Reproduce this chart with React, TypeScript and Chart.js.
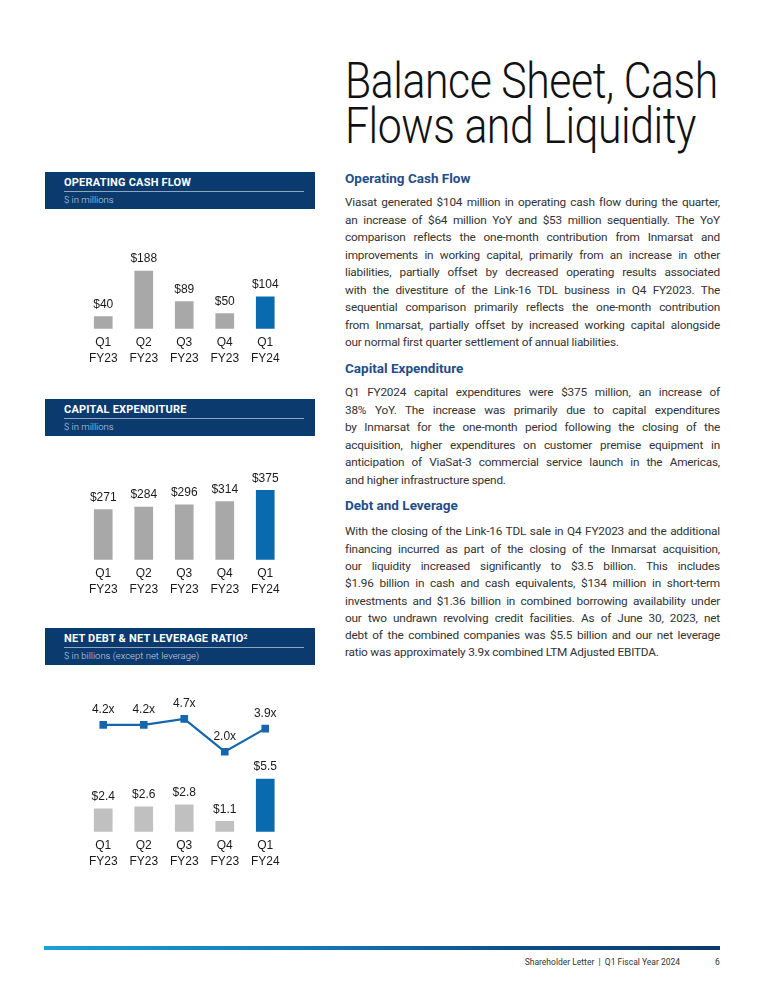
import React, { useEffect, useRef } from "react";
import { Chart, registerables } from "chart.js";

Chart.register(...registerables);

// ---------- data ----------
const categories: string[][] = [
  ["Q1", "FY23"],
  ["Q2", "FY23"],
  ["Q3", "FY23"],
  ["Q4", "FY23"],
  ["Q1", "FY24"],
];
const operatingCashFlow = [40, 188, 89, 50, 104];
const capitalExpenditure = [271, 284, 296, 314, 375];
const netDebt = [2.4, 2.6, 2.8, 1.1, 5.5];
const netLeverage = [4.2, 4.2, 4.7, 2.0, 3.9];

const GRAY = "#a8a8a8";
const LIGHT_GRAY = "#c0c0c0";
const BLUE = "#0a6ab0";
const LINE_BLUE = "#1466ad";
const NAVY = "#0a3a6e";
const CHART_FONT = '"Liberation Sans", Arial, sans-serif';
const TEXT_FONT = "Roboto, sans-serif";

const barColors = (base: string) => categories.map((_, i) => (i === categories.length - 1 ? BLUE : base));

const valueLabelPlugin = {
  id: "valueLabels",
  afterDatasetsDraw(chart: any) {
    const ctx = chart.ctx;
    chart.data.datasets.forEach((ds: any, i: number) => {
      const meta = chart.getDatasetMeta(i);
      meta.data.forEach((el: any, j: number) => {
        const { x, y } = el.getProps(["x", "y"], true);
        ctx.save();
        ctx.font = `12px ${CHART_FONT}`;
        ctx.fillStyle = "#1a1a1a";
        ctx.textAlign = "center";
        ctx.textBaseline = "middle";
        ctx.fillText(ds.labelFormat(ds.data[j]), x, y - ds.labelOffset);
        ctx.restore();
      });
    });
  },
};

const xScale = {
  type: "category",
  offset: true,
  grid: { display: false, drawTicks: false },
  border: { display: false },
  ticks: {
    color: "#1a1a1a",
    font: { family: CHART_FONT, size: 12, lineHeight: 1.3 },
    padding: 6,
    maxRotation: 0,
    autoSkip: false,
  },
};

const layout = { padding: { left: 38, right: 29.5, top: 10, bottom: 0 } };

function barConfig(values: number[], max: number, colors: string[]) {
  return {
    type: "bar",
    data: {
      labels: categories,
      datasets: [
        {
          data: values,
          backgroundColor: colors,
          barThickness: 18,
          labelFormat: (v: number) => "$" + v,
          labelOffset: 12,
        },
      ],
    },
    options: {
      animation: false,
      responsive: false,
      layout,
      plugins: { legend: { display: false }, tooltip: { enabled: false } },
      scales: {
        x: xScale,
        y: { display: false, min: 0, max },
      },
    },
    plugins: [valueLabelPlugin],
  } as any;
}

function debtConfig() {
  return {
    type: "bar",
    data: {
      labels: categories,
      datasets: [
        {
          type: "line",
          data: netLeverage,
          yAxisID: "y2",
          borderColor: LINE_BLUE,
          borderWidth: 2.2,
          pointStyle: "rect",
          pointRadius: 5.4,
          pointBackgroundColor: LINE_BLUE,
          pointBorderColor: LINE_BLUE,
          pointBorderWidth: 0,
          tension: 0,
          labelFormat: (v: number) => v.toFixed(1) + "x",
          labelOffset: 15,
        },
        {
          type: "bar",
          data: netDebt,
          yAxisID: "y",
          backgroundColor: barColors(LIGHT_GRAY),
          barThickness: 18,
          labelFormat: (v: number) => "$" + v.toFixed(1),
          labelOffset: 12,
        },
      ],
    },
    options: {
      animation: false,
      responsive: false,
      layout,
      plugins: { legend: { display: false }, tooltip: { enabled: false } },
      scales: {
        x: xScale,
        y: { display: false, min: 0, max: 14.77 },
        y2: { display: false, min: -4.58, max: 7.07 },
      },
    },
    plugins: [valueLabelPlugin],
  } as any;
}

// ---------- text ----------
const ocfLines = [
  "Viasat generated $104 million in operating cash flow during the quarter,",
  "an increase of $64 million YoY and $53 million sequentially.  The YoY",
  "comparison reflects the one-month contribution from Inmarsat and",
  "improvements in working capital, primarily from an increase in other",
  "liabilities, partially offset by decreased operating results associated",
  "with the divestiture of the Link-16 TDL business in Q4 FY2023.  The",
  "sequential comparison primarily reflects the one-month contribution",
  "from Inmarsat, partially offset by increased working capital alongside",
  "our normal first quarter settlement of annual liabilities.",
];
const capexLines = [
  "Q1 FY2024 capital expenditures were $375 million, an increase of",
  "38% YoY.  The increase was primarily due to capital expenditures",
  "by Inmarsat for the one-month period following the closing of the",
  "acquisition, higher expenditures on customer premise equipment in",
  "anticipation of ViaSat-3 commercial service launch in the Americas,",
  "and higher infrastructure spend.",
];
const debtLines = [
  "With the closing of the Link-16 TDL sale in Q4 FY2023 and the additional",
  "financing incurred as part of the closing of the Inmarsat acquisition,",
  "our liquidity increased significantly to $3.5 billion.  This includes",
  "$1.96 billion in cash and cash equivalents, $134 million in short-term",
  "investments and $1.36 billion in combined borrowing availability under",
  "our two undrawn revolving credit facilities.  As of June 30, 2023, net",
  "debt of the combined companies was $5.5 billion and our net leverage",
  "ratio was approximately 3.9x combined LTM Adjusted EBITDA.",
];

function PanelHeader({ top, title, sub }: { top: number; title: React.ReactNode; sub: string }) {
  return (
    <div style={{ position: "absolute", left: 45, top, width: 270, height: 37, background: NAVY }}>
      <div
        style={{
          position: "absolute",
          left: 19,
          top: 4,
          font: `bold 11px ${TEXT_FONT}`,
          lineHeight: "14px",
          color: "#fff",
          letterSpacing: "0.2px",
          whiteSpace: "nowrap",
        }}
      >
        {title}
      </div>
      <div style={{ position: "absolute", left: 19, right: 11, top: 19, height: 1, background: "rgba(255,255,255,0.55)" }} />
      <div
        style={{
          position: "absolute",
          left: 19,
          top: 22,
          font: `300 9.5px ${TEXT_FONT}`,
          lineHeight: "12px",
          color: "#c9d4e3",
          whiteSpace: "nowrap",
        }}
      >
        {sub}
      </div>
    </div>
  );
}

function Heading({ top, children }: { top: number; children: string }) {
  return (
    <div
      style={{
        position: "absolute",
        left: 345,
        top,
        font: `bold 13.5px ${TEXT_FONT}`,
        lineHeight: "18px",
        color: "#1f4e89",
        whiteSpace: "nowrap",
      }}
    >
      {children}
    </div>
  );
}

function Body({ top, lines, lh }: { top: number; lines: string[]; lh: number }) {
  return (
    <div style={{ position: "absolute", left: 345, top, width: 375, font: `11.8px ${TEXT_FONT}`, color: "#333", letterSpacing: "-0.2px" }}>
      {lines.map((l, i) => {
        const last = i === lines.length - 1;
        return (
          <div
            key={i}
            style={{
              height: lh,
              lineHeight: lh + "px",
              whiteSpace: "nowrap",
              textAlign: last ? "left" : "justify",
              textAlignLast: last ? "left" : "justify",
            } as any}
          >
            {l}
          </div>
        );
      })}
    </div>
  );
}

const titleLine = (top: number): React.CSSProperties => ({
  position: "absolute",
  left: 345,
  top,
  height: 45,
  font: `300 50px ${TEXT_FONT}`,
  lineHeight: "45px",
  color: "#111",
  whiteSpace: "nowrap",
  transform: "scaleX(0.855)",
  transformOrigin: "left top",
  letterSpacing: "-0.5px",
});

export default function App() {
  const c1 = useRef<HTMLCanvasElement>(null);
  const c2 = useRef<HTMLCanvasElement>(null);
  const c3 = useRef<HTMLCanvasElement>(null);

  useEffect(() => {
    const charts = [
      new Chart(c1.current!, barConfig(operatingCashFlow, 257, barColors(GRAY))),
      new Chart(c2.current!, barConfig(capitalExpenditure, 484, barColors(GRAY))),
      new Chart(c3.current!, debtConfig()),
    ];
    return () => charts.forEach((c) => c.destroy());
  }, []);

  return (
    <div
      style={{
        position: "absolute",
        left: 0,
        top: 0,
        width: 765,
        height: 990,
        background: "#fff",
        overflow: "hidden",
        fontFamily: TEXT_FONT,
      }}
    >
      {/* Title */}
      <div style={titleLine(59.4)}>Balance Sheet, Cash</div>
      <div style={titleLine(104.4)}>Flows and Liquidity</div>

      {/* Left panels */}
      <PanelHeader top={172} title="OPERATING CASH FLOW" sub="$ in millions" />
      <canvas ref={c1} width={270} height={132} style={{ position: "absolute", left: 45, top: 240, width: 270, height: 132 }} />

      <PanelHeader top={399} title="CAPITAL EXPENDITURE" sub="$ in millions" />
      <canvas ref={c2} width={270} height={143} style={{ position: "absolute", left: 45, top: 460, width: 270, height: 143 }} />

      <PanelHeader
        top={628}
        title={
          <span>
            NET DEBT &amp; NET LEVERAGE RATIO<sup style={{ fontSize: 7, verticalAlign: "top", lineHeight: "10px" }}>2</sup>
          </span>
        }
        sub="$ in billions (except net leverage)"
      />
      <canvas ref={c3} width={270} height={195} style={{ position: "absolute", left: 45, top: 680, width: 270, height: 195 }} />

      {/* Right text */}
      <Heading top={169}>Operating Cash Flow</Heading>
      <Body top={194.25} lines={ocfLines} lh={17.5} />
      <Heading top={359}>Capital Expenditure</Heading>
      <Body top={384.25} lines={capexLines} lh={17.5} />
      <Heading top={496}>Debt and Leverage</Heading>
      <Body top={523.35} lines={debtLines} lh={17.3} />

      {/* Footer */}
      <div
        style={{
          position: "absolute",
          left: 44,
          top: 946,
          width: 676,
          height: 4,
          background: "linear-gradient(to right, #1aa0dc 0%, #1277b8 40%, #0d4f8a 70%, #0a3a6e 100%)",
        }}
      />
      <div
        style={{
          position: "absolute",
          right: 85,
          top: 956,
          font: `8.5px ${TEXT_FONT}`,
          lineHeight: "12px",
          color: "#333",
          whiteSpace: "pre",
        }}
      >
        {"Shareholder Letter  |  Q1 Fiscal Year 2024"}
      </div>
      <div style={{ position: "absolute", left: 715, top: 956, font: `8.5px ${TEXT_FONT}`, lineHeight: "12px", color: "#333" }}>6</div>
    </div>
  );
}
